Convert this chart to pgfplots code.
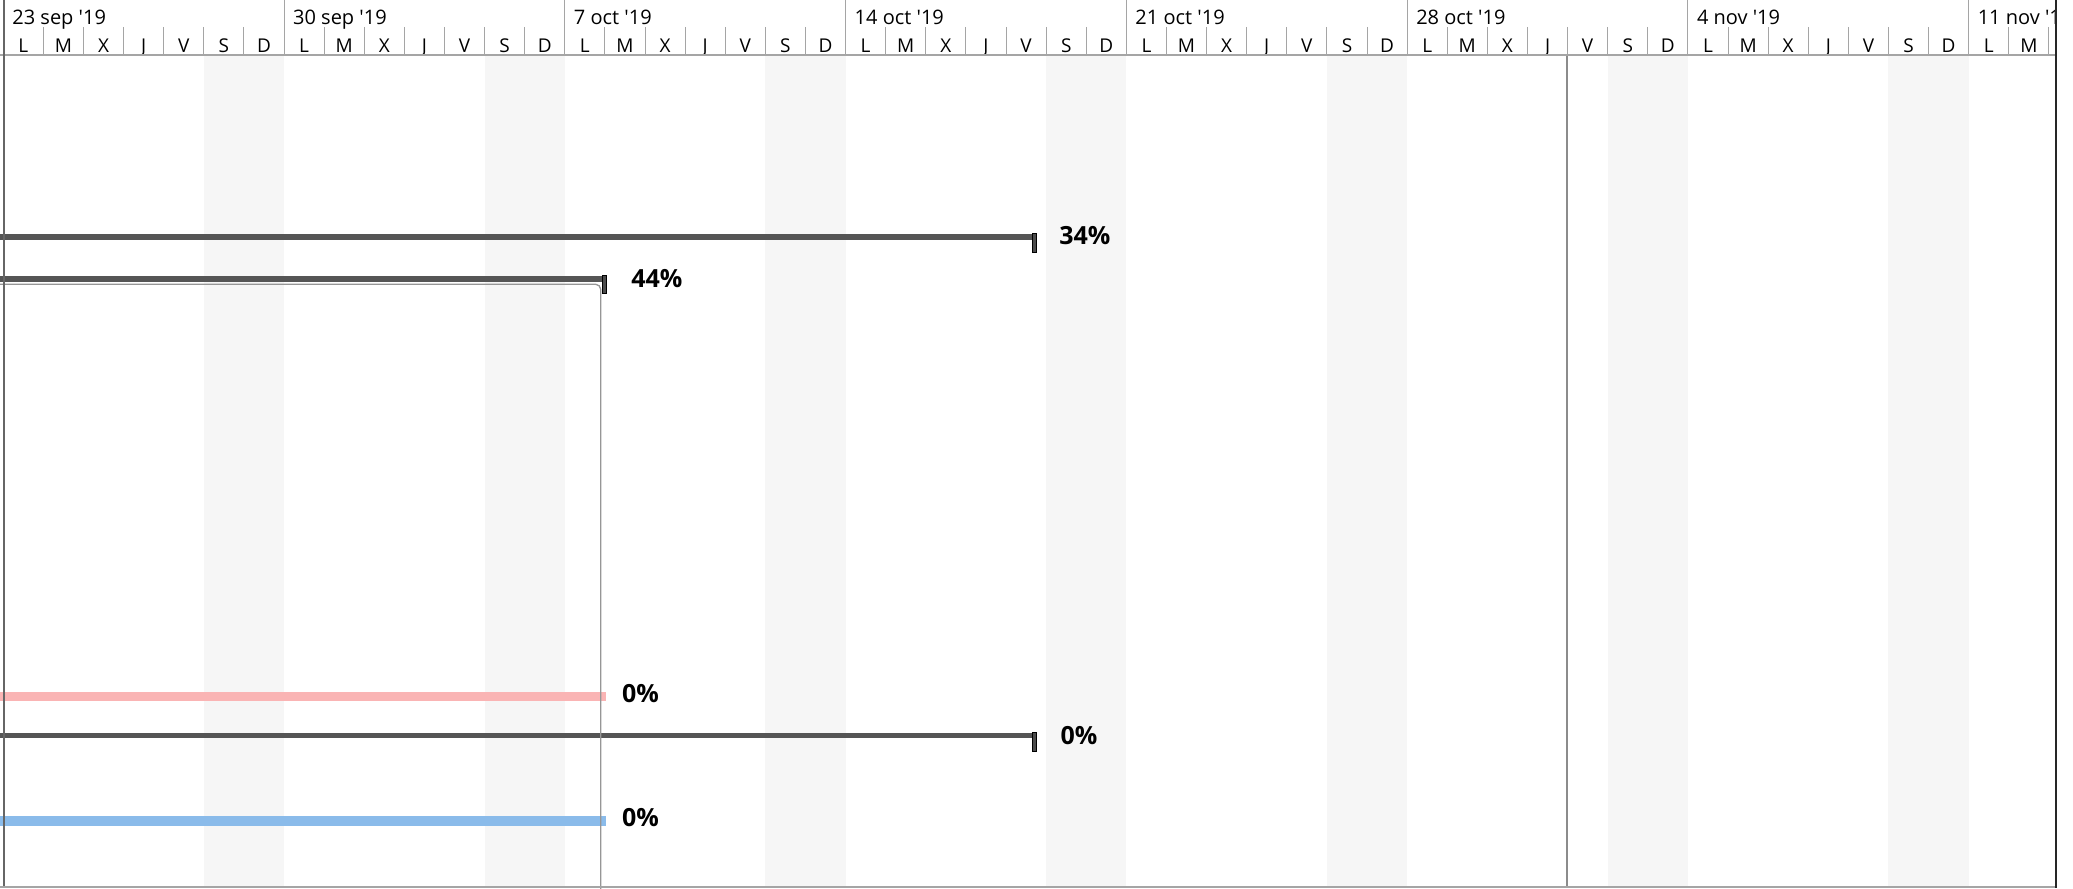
\documentclass[border=0pt]{standalone}
\usepackage{pgfplots}
\pgfplotsset{compat=1.18}
\usepackage{fontspec}
\setmainfont{Open Sans}[Ligatures=TeXOff]
\definecolor{barDark}{RGB}{85,85,85}
\definecolor{capDark}{RGB}{75,75,75}
\definecolor{pinkBar}{RGB}{250,180,180}
\definecolor{blueBar}{RGB}{138,187,234}
\definecolor{weekend}{RGB}{246,246,246}
\definecolor{gridGray}{RGB}{165,165,165}
\definecolor{linkGray}{RGB}{150,150,150}
\definecolor{statusGray}{RGB}{140,140,140}
\begin{document}
\begin{tikzpicture}
\begin{axis}[scale only axis, width=1036.5pt, height=444pt,
  xmin=-0.0823, xmax=51.601, ymin=0, ymax=888, y dir=reverse,
  axis lines=none, clip=true]
% weekend shading
\pgfplotsinvokeforeach{0,...,6}{
  \fill[weekend] (axis cs:{7*#1+5},56) rectangle (axis cs:{7*#1+7},888);
}
% status line
\addplot[statusGray, line width=0.75pt] coordinates {(38.98,56) (38.98,888)};
% summary bars
\addplot[barDark, line width=3pt] coordinates {(-0.0823,237) (25.76,237)};
\addplot[fill=capDark, draw=black, line width=0.35pt] coordinates {(25.66,233.5) (25.76,233.5) (25.76,252) (25.66,252)} -- cycle;
\addplot[barDark, line width=3pt] coordinates {(-0.0823,279) (15.03,279)};
\addplot[fill=capDark, draw=black, line width=0.35pt] coordinates {(14.93,275.5) (15.03,275.5) (15.03,293) (14.93,293)} -- cycle;
\addplot[pinkBar, line width=4.5pt] coordinates {(-0.0823,696) (15.03,696)};
\addplot[barDark, line width=2.8pt] coordinates {(-0.0823,735.5) (25.76,735.5)};
\addplot[fill=capDark, draw=black, line width=0.35pt] coordinates {(25.66,732.5) (25.76,732.5) (25.76,751) (25.66,751)} -- cycle;
\addplot[blueBar, line width=4.75pt] coordinates {(-0.0823,821) (15.03,821)};
% link line
\addplot[linkGray, line width=0.65pt, rounded corners=2.5pt] coordinates {(-0.0823,284.3) (14.894,284.3) (14.894,890)};
% labels
\node[anchor=west, inner sep=0pt, font=\bfseries\fontsize{12.5}{15}\selectfont] at (axis cs:26.32,236) {34\%};
\node[anchor=west, inner sep=0pt, font=\bfseries\fontsize{12.5}{15}\selectfont] at (axis cs:15.65,279) {44\%};
\node[anchor=west, inner sep=0pt, font=\bfseries\fontsize{12.5}{15}\selectfont] at (axis cs:15.42,694) {0\%};
\node[anchor=west, inner sep=0pt, font=\bfseries\fontsize{12.5}{15}\selectfont] at (axis cs:26.35,736) {0\%};
\node[anchor=west, inner sep=0pt, font=\bfseries\fontsize{12.5}{15}\selectfont] at (axis cs:15.42,818) {0\%};
% header: week dividers
\pgfplotsinvokeforeach{1,...,7}{
  \draw[gridGray, line width=0.5pt] (axis cs:{7*#1},0) -- (axis cs:{7*#1},55);
}
% header: day dividers
\pgfplotsinvokeforeach{1,...,51}{
  \draw[gridGray, line width=0.5pt] (axis cs:#1,27) -- (axis cs:#1,55);
}
% header: day letters
\pgfplotsinvokeforeach{0,...,6}{
  \node[anchor=base, inner sep=0pt, font=\fontsize{9.5}{11}\selectfont] at (axis cs:{7*#1+0.5},52.3) {L};
  \node[anchor=base, inner sep=0pt, font=\fontsize{9.5}{11}\selectfont] at (axis cs:{7*#1+1.5},52.3) {M};
  \node[anchor=base, inner sep=0pt, font=\fontsize{9.5}{11}\selectfont] at (axis cs:{7*#1+2.5},52.3) {X};
  \node[anchor=base, inner sep=0pt, font=\fontsize{9.5}{11}\selectfont] at (axis cs:{7*#1+3.5},52.3) {J};
  \node[anchor=base, inner sep=0pt, font=\fontsize{9.5}{11}\selectfont] at (axis cs:{7*#1+4.5},52.3) {V};
  \node[anchor=base, inner sep=0pt, font=\fontsize{9.5}{11}\selectfont] at (axis cs:{7*#1+5.5},52.3) {S};
  \node[anchor=base, inner sep=0pt, font=\fontsize{9.5}{11}\selectfont] at (axis cs:{7*#1+6.5},52.3) {D};
}
\node[anchor=base, inner sep=0pt, font=\fontsize{9.5}{11}\selectfont] at (axis cs:49.5,52.3) {L};
\node[anchor=base, inner sep=0pt, font=\fontsize{9.5}{11}\selectfont] at (axis cs:50.5,52.3) {M};
% header: week labels
\node[anchor=base west, inner sep=0pt, font=\fontsize{10}{12}\selectfont] at (axis cs:0.217,25) {23 sep '19};
\node[anchor=base west, inner sep=0pt, font=\fontsize{10}{12}\selectfont] at (axis cs:7.217,25) {30 sep '19};
\node[anchor=base west, inner sep=0pt, font=\fontsize{10}{12}\selectfont] at (axis cs:14.217,25) {7 oct '19};
\node[anchor=base west, inner sep=0pt, font=\fontsize{10}{12}\selectfont] at (axis cs:21.217,25) {14 oct '19};
\node[anchor=base west, inner sep=0pt, font=\fontsize{10}{12}\selectfont] at (axis cs:28.217,25) {21 oct '19};
\node[anchor=base west, inner sep=0pt, font=\fontsize{10}{12}\selectfont] at (axis cs:35.217,25) {28 oct '19};
\node[anchor=base west, inner sep=0pt, font=\fontsize{10}{12}\selectfont] at (axis cs:42.217,25) {4 nov '19};
\node[anchor=base west, inner sep=0pt, font=\fontsize{10}{12}\selectfont] at (axis cs:49.217,25) {11 nov '19};
% header bottom line
\draw[gridGray, line width=0.7pt] (axis cs:-0.0823,55) -- (axis cs:51.18,55);
% borders
\draw[black!60, line width=0.75pt] (axis cs:0.017,0) -- (axis cs:0.017,888);
\draw[gridGray, line width=0.7pt] (axis cs:-0.0823,887) -- (axis cs:51.18,887);
\fill[white] (axis cs:51.19,-1) rectangle (axis cs:51.62,890);
\draw[black!85, line width=0.75pt] (axis cs:51.177,0) -- (axis cs:51.177,888);
\path (rel axis cs:0,0) rectangle (rel axis cs:1,1);
\end{axis}
\end{tikzpicture}
\end{document}
